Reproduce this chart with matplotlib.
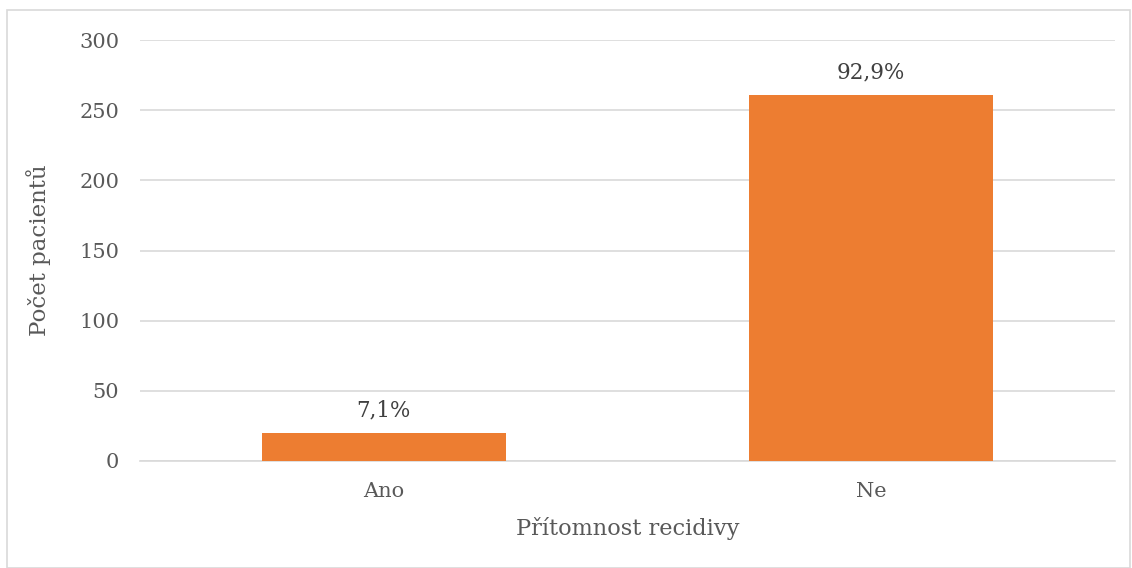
import matplotlib.pyplot as plt
from matplotlib.patches import Rectangle

# počty pacientů podle přítomnosti recidivy
kategorie = ['Ano', 'Ne']
pocty = [20, 261]
popisky = ['7,1%', '92,9%']

plt.rcParams['font.family'] = ['DejaVu Serif']
barva_textu = '#595959'

fig = plt.figure(figsize=(11.32, 5.68), dpi=100)
ax = fig.add_axes([140 / 1132, 1 - 461 / 568, 975 / 1132, 421 / 568])

# rámeček kolem celého grafu
fig.patches.append(Rectangle((7 / 1132, 0), 1123 / 1132, 1 - 10 / 568,
                             transform=fig.transFigure, fill=False,
                             edgecolor='#d9d9d9', linewidth=1.2))

x = range(len(kategorie))
sloupce = ax.bar(x, pocty, width=0.5, color='#ed7d31', zorder=3)
for s, t in zip(sloupce, popisky):
    ax.annotate(t, (s.get_x() + s.get_width() / 2, s.get_height()),
                xytext=(0, 8), textcoords='offset points',
                ha='center', va='bottom', fontsize=15.5, color='#404040')

ax.set_xlim(-0.5, 1.5)
ax.set_ylim(0, 300)
ax.set_yticks(range(0, 301, 50))
ax.set_xticks(list(x))
ax.set_xticklabels(kategorie)
ax.tick_params(axis='both', length=0, labelsize=15, labelcolor=barva_textu)
ax.tick_params(axis='y', pad=15)
ax.tick_params(axis='x', pad=15)
ax.grid(axis='y', color='#d9d9d9', linewidth=1.2, zorder=0)
for strana in ['top', 'right', 'left']:
    ax.spines[strana].set_visible(False)
ax.spines['bottom'].set_color('#d9d9d9')
ax.spines['bottom'].set_linewidth(1.2)

ax.set_xlabel('Přítomnost recidivy', fontsize=16.2, color=barva_textu, labelpad=12)
ax.set_ylabel('Počet pacientů', fontsize=16.5, color=barva_textu, labelpad=20)

fig.savefig('out.png', dpi=100)
